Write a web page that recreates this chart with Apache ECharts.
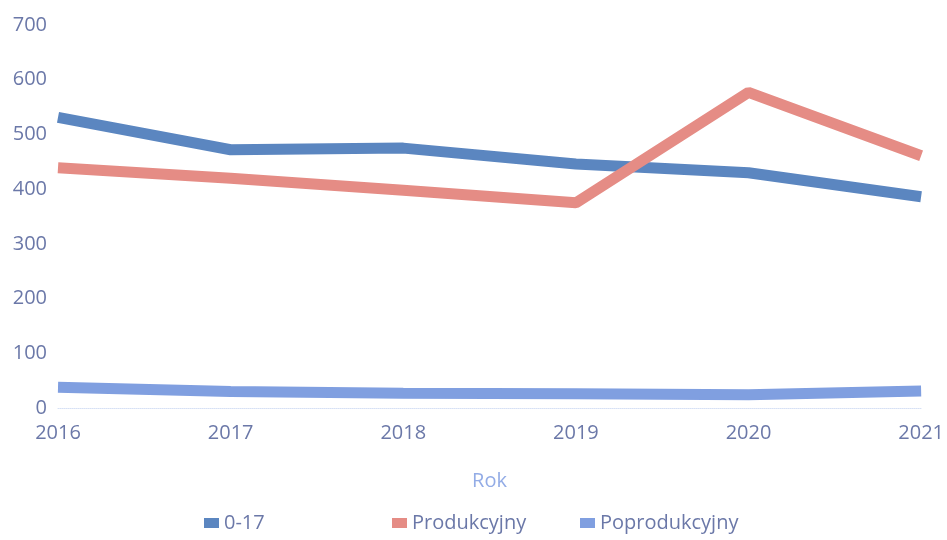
<!DOCTYPE html>
<html>
<head>
<meta charset="utf-8">
<script src="https://cdn.jsdelivr.net/npm/echarts@6/dist/echarts.min.js"></script>
<style>
  html, body { margin: 0; padding: 0; background: #fff; }
  #chart { width: 947px; height: 540px; }
</style>
</head>
<body>
<div id="chart"></div>
<script>
var years = ["2016", "2017", "2018", "2019", "2020", "2021"];
var seriesNames = ["0-17", "Produkcyjny", "Poprodukcyjny"];
var dzieci = [531, 472, 475, 446, 430, 386];
var produkcyjny = [439, 420, 398, 375, 577, 461];
var poprodukcyjny = [38, 30, 27, 26, 24, 31];

var chart = echarts.init(document.getElementById("chart"));
var labelColor = "#6b78a8";
var legendLeft = [199, 387, 575];

// one legend per item so the entries sit in fixed columns
var legends = seriesNames.map(function (name, i) {
  return {
    bottom: 2,
    left: legendLeft[i],
    itemWidth: 15,
    itemHeight: 10,
    icon: "rect",
    textStyle: { color: labelColor, fontSize: 20, fontFamily: "Open Sans" },
    data: [name]
  };
});

chart.setOption({
  animation: false,
  color: ["#5b86c0", "#e58c85", "#809fe0"],
  textStyle: { fontFamily: "Open Sans" },
  grid: { left: 58, right: 19, top: 25, bottom: 132 },
  legend: legends,
  xAxis: {
    type: "category",
    data: years,
    boundaryGap: false,
    name: "Rok",
    nameLocation: "middle",
    nameGap: 63,
    nameTextStyle: { color: "#93ace6", fontSize: 20 },
    axisLine: { lineStyle: { color: "#d6e0f5", type: "dotted", width: 1 } },
    axisTick: { show: false },
    axisLabel: { color: labelColor, fontSize: 20, margin: 15 }
  },
  yAxis: {
    type: "value",
    min: 0,
    max: 700,
    interval: 100,
    axisLine: { show: false },
    axisTick: { show: false },
    splitLine: { show: false },
    axisLabel: { color: labelColor, fontSize: 20, margin: 11 }
  },
  series: [
    { name: seriesNames[0], type: "line", data: dzieci, symbol: "none", lineStyle: { width: 11 } },
    { name: seriesNames[1], type: "line", data: produkcyjny, symbol: "none", lineStyle: { width: 11 } },
    { name: seriesNames[2], type: "line", data: poprodukcyjny, symbol: "none", lineStyle: { width: 11 } }
  ]
});
</script>
</body>
</html>
